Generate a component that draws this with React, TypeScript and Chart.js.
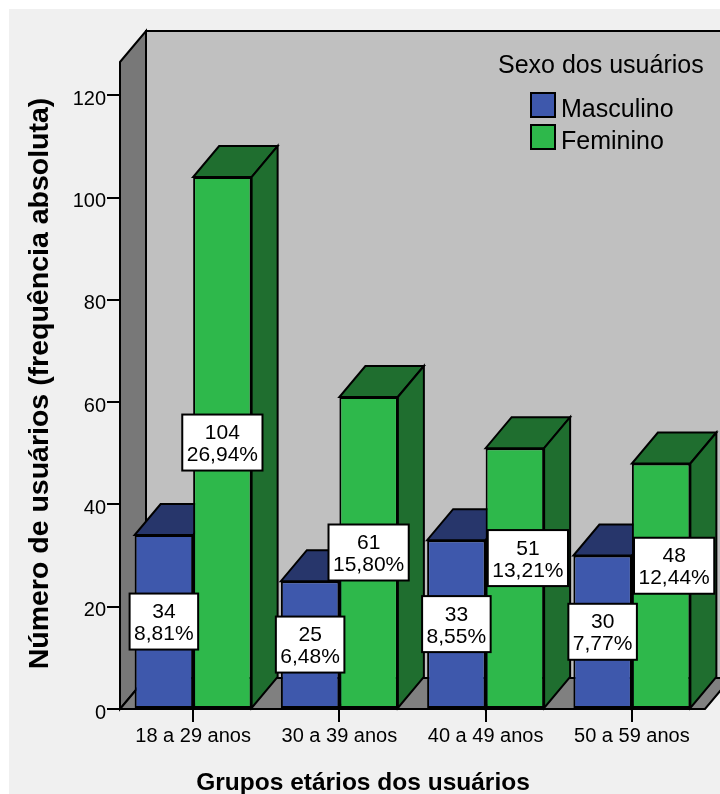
import { useEffect, useRef } from "react";
import { Chart, registerables } from "chart.js";

Chart.register(...registerables);

// Age groups and counts of users by sex
const categories = ["18 a 29 anos", "30 a 39 anos", "40 a 49 anos", "50 a 59 anos"];
const masculino = [34, 25, 33, 30];
const feminino = [104, 61, 51, 48];
const masculinoPct = [8.81, 6.48, 8.55, 7.77];
const femininoPct = [26.94, 15.8, 13.21, 12.44];
const seriesNames = ["Masculino", "Feminino"];
const legendTitle = "Sexo dos usuários";
const yTitle = "Número de usuários (frequência absoluta)";
const xTitle = "Grupos etários dos usuários";
const yMax = 126.5;
const yStep = 20;

const FONT = '"Liberation Sans", Arial, Helvetica, sans-serif';
const DX = 26;
const DY = -31;
const FRONT = ["#3e58ac", "#2eb84b"];
const SHADE = ["#27366b", "#1f6e2f"];
const PCTS = [masculinoPct, femininoPct];
// nudge applied to a value box that would collide with one already drawn
const NUDGE_X = 13;
const NUDGE_Y = -20;

type Pt = [number, number];
type Box = { l: number; t: number; r: number; b: number };

function poly(ctx: CanvasRenderingContext2D, pts: Pt[], fill: string) {
  ctx.beginPath();
  ctx.moveTo(pts[0][0], pts[0][1]);
  for (let i = 1; i < pts.length; i++) ctx.lineTo(pts[i][0], pts[i][1]);
  ctx.closePath();
  ctx.fillStyle = fill;
  ctx.fill();
  ctx.stroke();
}

const fmtPct = (v: number) => v.toFixed(2).replace(".", ",") + "%";
const overlaps = (a: Box, b: Box) => a.l < b.r && b.l < a.r && a.t < b.b && b.t < a.b;

const depthPlugin = {
  id: "depth3d",
  beforeDraw(chart: any) {
    const { ctx, width, height } = chart;
    ctx.save();
    ctx.fillStyle = "#ffffff";
    ctx.fillRect(0, 0, width, height);
    ctx.fillStyle = "#f0f0f0";
    ctx.fillRect(9, 9, width - 9, height - 9);
    ctx.restore();
  },
  beforeDatasetsDraw(chart: any) {
    const { ctx, chartArea: a } = chart;
    ctx.save();
    ctx.lineWidth = 2;
    ctx.strokeStyle = "#000";
    ctx.lineJoin = "miter";
    // back wall
    poly(ctx, [
      [a.left + DX, a.top + DY],
      [a.right + DX, a.top + DY],
      [a.right + DX, a.bottom + DY],
      [a.left + DX, a.bottom + DY],
    ], "#c0c0c0");
    // left wall
    poly(ctx, [
      [a.left, a.top],
      [a.left + DX, a.top + DY],
      [a.left + DX, a.bottom + DY],
      [a.left, a.bottom],
    ], "#787878");
    // floor
    poly(ctx, [
      [a.left, a.bottom],
      [a.right, a.bottom],
      [a.right + DX, a.bottom + DY],
      [a.left + DX, a.bottom + DY],
    ], "#808080");
    // bar tops and right sides
    chart.data.datasets.forEach((_: any, di: number) => {
      const meta = chart.getDatasetMeta(di);
      meta.data.forEach((bar: any) => {
        const { x, y, base, width } = bar.getProps(["x", "y", "base", "width"], true);
        const l = x - width / 2;
        const r = x + width / 2;
        poly(ctx, [[l, y], [r, y], [r + DX, y + DY], [l + DX, y + DY]], SHADE[di]);
        poly(ctx, [[r, y], [r + DX, y + DY], [r + DX, base + DY], [r, base]], SHADE[di]);
      });
    });
    ctx.restore();
  },
  afterDatasetsDraw(chart: any) {
    const { ctx } = chart;
    ctx.save();
    ctx.font = `21px ${FONT}`;
    ctx.textAlign = "center";
    ctx.textBaseline = "alphabetic";
    const placed: Box[] = [];
    chart.data.datasets.forEach((ds: any, di: number) => {
      const meta = chart.getDatasetMeta(di);
      meta.data.forEach((bar: any, i: number) => {
        const { x, y, base } = bar.getProps(["x", "y", "base"], true);
        let cx = x;
        let cy = (y + base) / 2;
        const lines = [String(ds.data[i]), fmtPct(PCTS[di][i])];
        const w = Math.max(...lines.map((t) => ctx.measureText(t).width)) + 9;
        const h = 56;
        let box: Box = { l: cx - w / 2, t: cy - h / 2, r: cx + w / 2, b: cy + h / 2 };
        if (placed.some((p) => overlaps(p, box))) {
          cx += NUDGE_X;
          cy += NUDGE_Y;
          box = { l: cx - w / 2, t: cy - h / 2, r: cx + w / 2, b: cy + h / 2 };
        }
        placed.push(box);
        ctx.fillStyle = "#ffffff";
        ctx.strokeStyle = "#000";
        ctx.lineWidth = 2;
        ctx.fillRect(box.l, box.t, w, h);
        ctx.strokeRect(box.l, box.t, w, h);
        ctx.fillStyle = "#000";
        ctx.fillText(lines[0], cx, cy - 3.5);
        ctx.fillText(lines[1], cx, cy + 18.5);
      });
    });
    ctx.restore();
  },
  afterDraw(chart: any) {
    const { ctx } = chart;
    ctx.save();
    ctx.fillStyle = "#000";
    // legend
    ctx.font = `25px ${FONT}`;
    ctx.textAlign = "left";
    ctx.textBaseline = "alphabetic";
    ctx.fillText(legendTitle, 498, 73);
    chart.data.datasets.forEach((ds: any, di: number) => {
      const top = 93 + di * 32;
      ctx.fillStyle = FRONT[di];
      ctx.strokeStyle = "#000";
      ctx.lineWidth = 2;
      ctx.fillRect(531, top, 24, 24);
      ctx.strokeRect(531, top, 24, 24);
      ctx.fillStyle = "#000";
      ctx.fillText(ds.label, 561, top + 24);
    });
    // axis titles
    ctx.font = `bold 24.5px ${FONT}`;
    ctx.textAlign = "center";
    ctx.fillText(xTitle, 363, 790);
    ctx.translate(48, 383.5);
    ctx.rotate(-Math.PI / 2);
    ctx.font = `bold 28.5px ${FONT}`;
    ctx.fillText(yTitle, 0, 0);
    ctx.restore();
  },
};

export default function App() {
  const ref = useRef<HTMLCanvasElement | null>(null);

  useEffect(() => {
    if (!ref.current) return;
    const chart = new Chart(ref.current, {
      type: "bar",
      data: {
        labels: categories,
        datasets: [masculino, feminino].map((d, i) => ({
          label: seriesNames[i],
          data: d,
          backgroundColor: FRONT[i],
          borderColor: "#000",
          borderWidth: 2,
          borderSkipped: false,
          categoryPercentage: 0.8,
          barPercentage: 1.0,
        })),
      },
      options: {
        responsive: false,
        animation: false,
        events: [],
        layout: { padding: { top: 62, right: 15, left: 0, bottom: 0 } },
        plugins: { legend: { display: false }, tooltip: { enabled: false } },
        scales: {
          x: {
            ticks: { color: "#000", font: { family: FONT, size: 20 }, padding: 2, maxRotation: 0 },
            grid: { offset: false, drawOnChartArea: false, tickLength: 13, color: "#000", lineWidth: 2 },
            border: { display: false },
            afterFit: (s: any) => {
              s.height = 85;
            },
          },
          y: {
            min: 0,
            max: yMax,
            ticks: {
              stepSize: yStep,
              includeBounds: false,
              color: "#000",
              font: { family: FONT, size: 20 },
              padding: 1,
              labelOffset: 4,
            },
            afterBuildTicks: (s: any) => {
              s.ticks = s.ticks.filter((t: any) => t.value % yStep === 0);
            },
            grid: { drawOnChartArea: false, tickLength: 13, color: "#000", lineWidth: 2 },
            border: { display: false },
            afterFit: (s: any) => {
              s.width = 120;
            },
          },
        },
      } as any,
      plugins: [depthPlugin],
    });
    return () => chart.destroy();
  }, []);

  return (
    <div style={{ position: "absolute", left: 0, top: 0, width: 720, height: 794 }}>
      <canvas ref={ref} width={720} height={794} style={{ display: "block" }} />
    </div>
  );
}
